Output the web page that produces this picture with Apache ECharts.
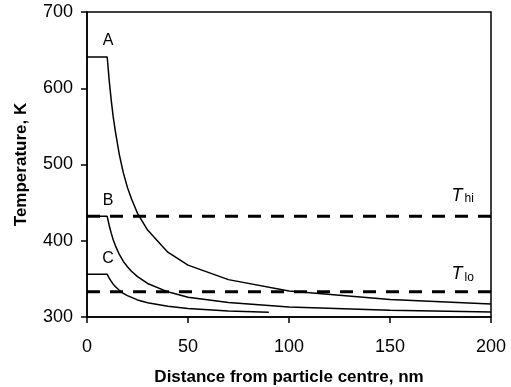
<!DOCTYPE html>
<html><head><meta charset="utf-8">
<script src="https://cdn.jsdelivr.net/npm/echarts@6/dist/echarts.min.js"></script>
<style>html,body{margin:0;padding:0;background:#fff}#c{width:511px;height:387px}</style>
</head><body><div id="c"></div>
<script>
// Data
const xA = [0, 10, 11, 12, 13, 14, 16, 18, 20, 22, 25, 30, 40, 50, 70, 100, 150, 200];
const yA = [641, 641, 610, 584, 562, 544, 513, 489, 470, 455, 436, 414, 385, 368, 349, 334, 323, 317];
const xB = [0, 10, 11, 12, 13, 14, 16, 18, 20, 22, 25, 30, 40, 50, 70, 100, 150, 200];
const yB = [432, 432, 420, 410, 401, 394, 382, 373, 366, 360, 353, 344, 333, 326, 319, 313, 309, 306.6];
const xC = [0, 10, 11, 12, 13, 14, 16, 18, 20, 25, 30, 40, 50, 70, 90];
const yC = [356, 356, 351, 346.7, 343, 340, 335, 331, 328, 322.4, 318.7, 314, 311, 308, 306.2];
const tHi = 432;
const tLo = 333;
const xTicks = [0, 50, 100, 150, 200];
const yTicks = [300, 400, 500, 600, 700];
const curveNames = ['A', 'B', 'C'];

const zip = (xs, ys) => xs.map((x, i) => [x, ys[i]]);
const font = 'Liberation Sans, Arial, sans-serif';

const curve = (name, xs, ys) => ({
  name, type: 'line', data: zip(xs, ys), showSymbol: false, symbol: 'none',
  lineStyle: { color: '#000', width: 1.5 }, animation: false, z: 3,
  markPoint: {
    symbol: 'circle', symbolSize: 0,
    label: { show: true, formatter: name, color: '#000', fontFamily: font, fontSize: 16, position: 'inside' },
    data: [{ coord: [10.4, ys[0] + 21] }]
  }
});
const dashed = (val, sub, labY) => ({
  type: 'line', data: [[0, val], [200, val]], showSymbol: false, symbol: 'none',
  lineStyle: { color: '#000', width: 3, type: [13, 10] }, animation: false, z: 2,
  markPoint: {
    symbol: 'circle', symbolSize: 0,
    label: {
      show: true, position: 'inside',
      formatter: '{t|T}{s|' + sub + '}',
      rich: {
        t: { fontStyle: 'italic', fontSize: 18, fontFamily: font, color: '#000', verticalAlign: 'bottom' },
        s: { fontSize: 12, fontFamily: font, color: '#000', padding: [0, 0, 0, 2], verticalAlign: 'bottom' }
      }
    },
    data: [{ coord: [186, labY] }]
  }
});

const chart = echarts.init(document.getElementById('c'));
chart.setOption({
  backgroundColor: '#fff',
  animation: false,
  grid: { left: 87, right: 20, top: 12, bottom: 70, show: true, borderColor: '#000', borderWidth: 1.5,
          containLabel: false, outerBoundsMode: 'none' },
  xAxis: {
    type: 'value', min: xTicks[0], max: xTicks[xTicks.length - 1], interval: 50,
    name: 'Distance from particle centre, nm', nameLocation: 'middle', nameGap: 52,
    nameTextStyle: { fontFamily: font, fontWeight: 'bold', fontSize: 17, color: '#000' },
    axisLine: { lineStyle: { color: '#000', width: 1.5 } },
    axisTick: { inside: false, length: 6, lineStyle: { color: '#000', width: 1.5 } },
    axisLabel: { fontFamily: font, fontSize: 18, color: '#000', margin: 21 },
    splitLine: { show: false }
  },
  yAxis: {
    type: 'value', min: yTicks[0], max: yTicks[yTicks.length - 1], interval: 100,
    name: 'Temperature, K', nameLocation: 'middle', nameGap: 57, nameRotate: 90,
    nameTextStyle: { fontFamily: font, fontWeight: 'bold', fontSize: 17, color: '#000' },
    axisLine: { show: true, lineStyle: { color: '#000', width: 1.5 } },
    axisTick: { show: true, inside: false, length: 6, lineStyle: { color: '#000', width: 1.5 } },
    axisLabel: { fontFamily: font, fontSize: 18, color: '#000', margin: 14 },
    splitLine: { show: false }
  },
  series: [
    curve(curveNames[0], xA, yA),
    curve(curveNames[1], xB, yB),
    curve(curveNames[2], xC, yC),
    dashed(tHi, 'hi', 459),
    dashed(tLo, 'lo', 356)
  ]
});
</script></body></html>
